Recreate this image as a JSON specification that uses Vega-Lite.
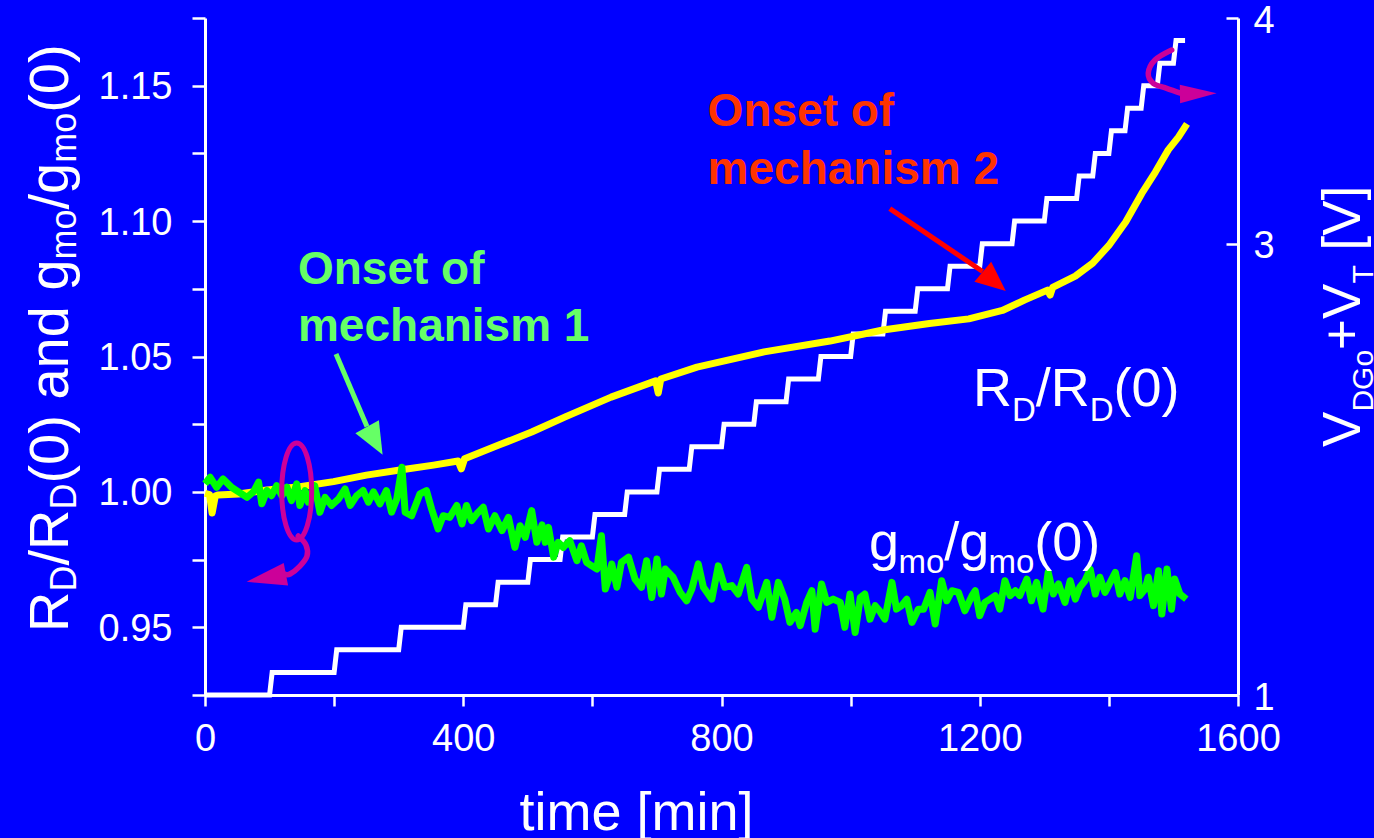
{
  "$schema": "https://vega.github.io/schema/vega-lite/v6.json",
  "width": 1033,
  "height": 677,
  "autosize": {"type": "none"},
  "padding": {"left": 205, "top": 18, "right": 136, "bottom": 143},
  "background": "#0000FF",
  "config": {
    "view": {"stroke": null},
    "font": "Liberation Sans",
    "axis": {"grid": false, "domainColor": "#FFFFFF", "tickColor": "#FFFFFF", "labelColor": "#FFFFFF", "titleColor": "#FFFFFF", "labelFont": "Liberation Sans", "titleFont": "Liberation Sans", "titleFontWeight": "normal", "domainWidth": 3, "tickWidth": 2.5, "labelFontSize": 38, "labelOverlap": false, "labelFlush": false}
  },
  "datasets": {
    "vg": [
      {"t":0,"v":1.0},{"t":100,"v":1.0},{"t":104,"v":1.1},{"t":200,"v":1.1},{"t":204,"v":1.2},{"t":300,"v":1.2},{"t":304,"v":1.3},{"t":400,"v":1.3},{"t":404,"v":1.4},{"t":450,"v":1.4},{"t":454,"v":1.5},{"t":500,"v":1.5},{"t":504,"v":1.6},{"t":550,"v":1.6},{"t":554,"v":1.7},{"t":600,"v":1.7},{"t":604,"v":1.8},{"t":650,"v":1.8},{"t":654,"v":1.9},{"t":700,"v":1.9},{"t":704,"v":2.0},{"t":750,"v":2.0},{"t":754,"v":2.1},{"t":800,"v":2.1},{"t":804,"v":2.2},{"t":850,"v":2.2},{"t":854,"v":2.3},{"t":900,"v":2.3},{"t":904,"v":2.4},{"t":950,"v":2.4},{"t":954,"v":2.5},{"t":1000,"v":2.5},{"t":1004,"v":2.6},{"t":1050,"v":2.6},{"t":1054,"v":2.7},{"t":1100,"v":2.7},{"t":1104,"v":2.8},{"t":1150,"v":2.8},{"t":1154,"v":2.9},{"t":1200,"v":2.9},{"t":1204,"v":3.0},{"t":1250,"v":3.0},{"t":1254,"v":3.1},{"t":1300,"v":3.1},{"t":1304,"v":3.2},{"t":1350,"v":3.2},{"t":1354,"v":3.3},{"t":1375,"v":3.3},{"t":1379,"v":3.4},{"t":1400,"v":3.4},{"t":1404,"v":3.5},{"t":1425,"v":3.5},{"t":1429,"v":3.6},{"t":1450,"v":3.6},{"t":1454,"v":3.7},{"t":1475,"v":3.7},{"t":1479,"v":3.8},{"t":1500,"v":3.8},{"t":1504,"v":3.9},{"t":1518,"v":3.9}
    ],
    "rd": [
      {"t":0,"v":0.9995},{"t":7,"v":0.9990},{"t":11,"v":0.9922},{"t":16,"v":0.9985},{"t":20,"v":0.9989},{"t":52,"v":0.9992},{"t":96,"v":1.0007},{"t":147,"v":1.0019},{"t":199,"v":1.0038},{"t":250,"v":1.0062},{"t":302,"v":1.0081},{"t":354,"v":1.0099},{"t":392,"v":1.0114},{"t":397,"v":1.0085},{"t":402,"v":1.0122},{"t":455,"v":1.0173},{"t":506,"v":1.0221},{"t":558,"v":1.0277},{"t":629,"v":1.0350},{"t":698,"v":1.0410},{"t":702,"v":1.0365},{"t":706,"v":1.0417},{"t":762,"v":1.0461},{"t":866,"v":1.0517},{"t":968,"v":1.0557},{"t":1050,"v":1.0598},{"t":1122,"v":1.0622},{"t":1183,"v":1.0639},{"t":1235,"v":1.0670},{"t":1270,"v":1.0709},{"t":1305,"v":1.0745},{"t":1309,"v":1.0727},{"t":1313,"v":1.0755},{"t":1348,"v":1.0797},{"t":1375,"v":1.0845},{"t":1400,"v":1.0910},{"t":1426,"v":1.0997},{"t":1451,"v":1.1102},{"t":1472,"v":1.1181},{"t":1492,"v":1.1263},{"t":1508,"v":1.1311},{"t":1521,"v":1.1359}
    ],
    "gm": [
      {"t":0,"v":1.003},{"t":8,"v":1.0054},{"t":18,"v":1.0017},{"t":28,"v":1.0048},{"t":41,"v":1.0017},{"t":52,"v":1.0},{"t":65,"v":0.998},{"t":75,"v":1.0},{"t":83,"v":1.0036},{"t":88,"v":0.9956},{"t":96,"v":1.0005},{"t":103,"v":0.9986},{"t":111,"v":1.0023},{"t":119,"v":0.9986},{"t":127,"v":1.0017},{"t":134,"v":0.9968},{"t":142,"v":1.003},{"t":147,"v":0.995},{"t":155,"v":1.0005},{"t":160,"v":0.9962},{"t":170,"v":1.0023},{"t":178,"v":0.9925},{"t":186,"v":0.998},{"t":196,"v":0.995},{"t":207,"v":0.9974},{"t":217,"v":1.0011},{"t":225,"v":0.995},{"t":235,"v":0.9986},{"t":245,"v":1.0005},{"t":253,"v":0.9962},{"t":261,"v":1.0},{"t":271,"v":0.9956},{"t":281,"v":1.0005},{"t":289,"v":0.9925},{"t":297,"v":0.9974},{"t":305,"v":1.0091},{"t":310,"v":0.9925},{"t":320,"v":0.9912},{"t":333,"v":0.9993},{"t":343,"v":1.0005},{"t":351,"v":0.9937},{"t":361,"v":0.9863},{"t":369,"v":0.9912},{"t":379,"v":0.9906},{"t":390,"v":0.995},{"t":398,"v":0.9882},{"t":405,"v":0.995},{"t":413,"v":0.9894},{"t":421,"v":0.9919},{"t":431,"v":0.9943},{"t":439,"v":0.9863},{"t":449,"v":0.9912},{"t":460,"v":0.9857},{"t":470,"v":0.9906},{"t":480,"v":0.9795},{"t":488,"v":0.9875},{"t":496,"v":0.9832},{"t":506,"v":0.9931},{"t":514,"v":0.9814},{"t":522,"v":0.9878},{"t":527,"v":0.9814},{"t":532,"v":0.9869},{"t":540,"v":0.9759},{"t":547,"v":0.9814},{"t":555,"v":0.9795},{"t":565,"v":0.982},{"t":576,"v":0.9746},{"t":583,"v":0.9801},{"t":591,"v":0.974},{"t":599,"v":0.9727},{"t":607,"v":0.9715},{"t":614,"v":0.9838},{"t":620,"v":0.9641},{"t":625,"v":0.9678},{"t":630,"v":0.9734},{"t":638,"v":0.9648},{"t":645,"v":0.974},{"t":656,"v":0.9759},{"t":666,"v":0.9678},{"t":676,"v":0.9648},{"t":684,"v":0.9746},{"t":692,"v":0.961},{"t":700,"v":0.9752},{"t":707,"v":0.9623},{"t":713,"v":0.9715},{"t":725,"v":0.9685},{"t":736,"v":0.9629},{"t":746,"v":0.9598},{"t":754,"v":0.9641},{"t":764,"v":0.9734},{"t":772,"v":0.9648},{"t":785,"v":0.9604},{"t":795,"v":0.9727},{"t":805,"v":0.9648},{"t":816,"v":0.9654},{"t":826,"v":0.9623},{"t":839,"v":0.9721},{"t":847,"v":0.9604},{"t":857,"v":0.9574},{"t":870,"v":0.9666},{"t":878,"v":0.9537},{"t":888,"v":0.9666},{"t":898,"v":0.9604},{"t":906,"v":0.9518},{"t":916,"v":0.9555},{"t":922,"v":0.9506},{"t":932,"v":0.9592},{"t":940,"v":0.9635},{"t":945,"v":0.9493},{"t":955,"v":0.966},{"t":963,"v":0.9592},{"t":973,"v":0.9604},{"t":984,"v":0.9592},{"t":991,"v":0.95},{"t":999,"v":0.9623},{"t":1007,"v":0.9481},{"t":1015,"v":0.961},{"t":1022,"v":0.9623},{"t":1030,"v":0.953},{"t":1038,"v":0.958},{"t":1045,"v":0.956},{"t":1053,"v":0.953},{"t":1064,"v":0.9666},{"t":1071,"v":0.9567},{"t":1079,"v":0.958},{"t":1087,"v":0.9604},{"t":1095,"v":0.9518},{"t":1105,"v":0.9567},{"t":1113,"v":0.9567},{"t":1123,"v":0.9629},{"t":1131,"v":0.9512},{"t":1141,"v":0.9672},{"t":1149,"v":0.9598},{"t":1157,"v":0.9635},{"t":1167,"v":0.9629},{"t":1177,"v":0.9561},{"t":1188,"v":0.9617},{"t":1193,"v":0.9635},{"t":1200,"v":0.9543},{"t":1208,"v":0.9592},{"t":1216,"v":0.9604},{"t":1224,"v":0.9617},{"t":1231,"v":0.9567},{"t":1239,"v":0.9672},{"t":1247,"v":0.9617},{"t":1255,"v":0.9635},{"t":1262,"v":0.9617},{"t":1273,"v":0.9678},{"t":1280,"v":0.9598},{"t":1288,"v":0.9666},{"t":1298,"v":0.9567},{"t":1306,"v":0.9703},{"t":1314,"v":0.9623},{"t":1322,"v":0.966},{"t":1332,"v":0.9592},{"t":1340,"v":0.9672},{"t":1348,"v":0.9604},{"t":1355,"v":0.9648},{"t":1363,"v":0.9672},{"t":1371,"v":0.9715},{"t":1379,"v":0.9623},{"t":1386,"v":0.9685},{"t":1394,"v":0.9629},{"t":1402,"v":0.9666},{"t":1410,"v":0.9703},{"t":1417,"v":0.9623},{"t":1425,"v":0.9672},{"t":1433,"v":0.961},{"t":1443,"v":0.9764},{"t":1448,"v":0.9617},{"t":1456,"v":0.9641},{"t":1461,"v":0.9685},{"t":1469,"v":0.958},{"t":1477,"v":0.9709},{"t":1482,"v":0.9549},{"t":1490,"v":0.9715},{"t":1497,"v":0.9567},{"t":1502,"v":0.9678},{"t":1510,"v":0.9623},{"t":1520,"v":0.9604}
    ],
    "shafts": [
      {"id":"g","i":0,"t":202.9,"v":1.05092},{"id":"g","i":1,"t":250.9,"v":1.02415},
      {"id":"r","i":0,"t":1060.7,"v":1.10461},{"id":"r","i":1,"t":1204.4,"v":1.08139},
      {"id":"m1","i":0,"t":144.5,"v":0.98371},{"id":"m1","i":1,"t":156.4,"v":0.98039},{"id":"m1","i":2,"t":158.0,"v":0.97633},{"id":"m1","i":3,"t":147.1,"v":0.97263},{"id":"m1","i":4,"t":131.7,"v":0.96968},{"id":"m1","i":5,"t":124.0,"v":0.9696},
      {"id":"m2","i":0,"t":1497.3,"v":1.16318},{"id":"m2","i":1,"t":1471.4,"v":1.15949},{"id":"m2","i":2,"t":1461.0,"v":1.15458},{"id":"m2","i":3,"t":1468.8,"v":1.15089},{"id":"m2","i":4,"t":1489.5,"v":1.14904},{"id":"m2","i":5,"t":1512.0,"v":1.1472}
    ],
    "heads": [
      {"id":"g","t":263.1,"v":1.01887},
      {"id":"r","t":1222.5,"v":1.07777},
      {"id":"m1","t":94.9,"v":0.9682},
      {"id":"m2","t":1538.5,"v":1.14705},
      {"id":"ell","t":142.0,"v":1.00015}
    ],
    "labels": [
      {"g":"yl_main","t":-212.2,"v":0.94826,"s":"R"},
      {"g":"yl_main","t":-212.2,"v":0.97278,"s":"/R"},
      {"g":"yl_main","t":-212.2,"v":1.00306,"s":"(0) and g"},
      {"g":"yl_main","t":-212.2,"v":1.10428,"s":"/g"},
      {"g":"yl_main","t":-212.2,"v":1.13999,"s":"(0)"},
      {"g":"yl_sub","t":-199.8,"v":0.96318,"s":"D"},
      {"g":"yl_sub","t":-199.8,"v":0.99346,"s":"D"},
      {"g":"yl_sub","t":-199.8,"v":1.08582,"s":"mo"},
      {"g":"yl_sub","t":-199.8,"v":1.12153,"s":"mo"},
      {"g":"yr_main","t":1788.9,"v":1.01658,"s":"V"},
      {"g":"yr_main","t":1788.9,"v":1.05244,"s":"+V"},
      {"g":"yr_main","t":1788.9,"v":1.08911,"s":"[V]"},
      {"g":"yr_sub","t":1809.0,"v":1.02965,"s":"DGo"},
      {"g":"yr_sub","t":1809.0,"v":1.07692,"s":"T"},
      {"g":"lab_main","t":1189.5,"v":1.03172,"s":"R"},
      {"g":"lab_main","t":1286.8,"v":1.03172,"s":"/R"},
      {"g":"lab_main","t":1407.3,"v":1.03172,"s":"(0)"},
      {"g":"lab_main","t":1028.5,"v":0.97485,"s":"g"},
      {"g":"lab_main","t":1145.1,"v":0.97485,"s":"/g"},
      {"g":"lab_main","t":1284.5,"v":0.97485,"s":"(0)"},
      {"g":"lab_sub","t":1250.0,"v":1.02618,"s":"D"},
      {"g":"lab_sub","t":1370.4,"v":1.02618,"s":"D"},
      {"g":"lab_sub","t":1074.1,"v":0.97005,"s":"mo"},
      {"g":"lab_sub","t":1213.6,"v":0.97005,"s":"mo"},
      {"g":"on1","t":144.0,"v":1.07659,"s":"Onset of"},
      {"g":"on1","t":144.0,"v":1.05572,"s":"mechanism 1"},
      {"g":"on2","t":778.5,"v":1.13512,"s":"Onset of"},
      {"g":"on2","t":778.5,"v":1.1137,"s":"mechanism 2"}
    ]
  },
  "encoding": {
    "x": {
      "field": "t", "type": "quantitative",
      "scale": {"domain": [0, 1600], "nice": false, "zero": false},
      "axis": {
        "orient": "bottom",
        "values": [0, 200, 400, 600, 800, 1000, 1200, 1400, 1600],
        "format": "d",
        "labelExpr": "datum.value % 400 === 0 ? datum.label : ''",
        "tickSize": 11,
        "labelPadding": 14,
        "title": "time [min]",
        "titleFontSize": 54,
        "titleX": 431,
        "titleY": 134,
        "titleBaseline": "alphabetic"
      }
    }
  },
  "layer": [
    {
      "data": {"name": "vg"},
      "mark": {"type": "line", "color": "#FFFFFF", "strokeWidth": 5},
      "encoding": {
        "y": {
          "field": "v", "type": "quantitative",
          "scale": {"domain": [1, 4], "nice": false, "zero": false},
          "axis": {
            "orient": "right",
            "values": [1, 2, 3, 3.5, 4],
            "format": "d",
            "labelExpr": "datum.value % 1 === 0 ? datum.label : ''",
            "tickSize": -12,
            "labelPadding": 27,
            "labelOffset": 3,
            "title": null
          }
        }
      }
    },
    {
      "encoding": {
        "y": {
          "field": "v", "type": "quantitative",
          "scale": {"domain": [0.925, 1.175], "nice": false, "zero": false},
          "axis": {
            "orient": "left",
            "values": [0.925, 0.95, 0.975, 1.0, 1.025, 1.05, 1.075, 1.1, 1.125, 1.15, 1.175],
            "labelExpr": "round(datum.value * 1000) % 50 === 0 ? format(datum.value, '.2f') : ''",
            "tickSize": 13,
            "labelPadding": 20,
            "labelOffset": 2,
            "title": null
          }
        }
      },
      "layer": [
        {"data": {"name": "rd"}, "mark": {"type": "line", "color": "#FFFF00", "strokeWidth": 7, "strokeJoin": "round"}},
        {"data": {"name": "gm"}, "mark": {"type": "line", "color": "#00FF00", "strokeWidth": 7, "strokeJoin": "round"}},
        {"data": {"name": "shafts"}, "transform": [{"filter": "datum.id === 'g'"}], "mark": {"type": "line", "color": "#66FF66", "strokeWidth": 5}, "encoding": {"order": {"field": "i"}}},
        {"data": {"name": "shafts"}, "transform": [{"filter": "datum.id === 'r'"}], "mark": {"type": "line", "color": "#FF0000", "strokeWidth": 5}, "encoding": {"order": {"field": "i"}}},
        {"data": {"name": "shafts"}, "transform": [{"filter": "datum.id === 'm1' || datum.id === 'm2'"}], "mark": {"type": "line", "color": "#CC0099", "strokeWidth": 5.5, "interpolate": "cardinal", "strokeCap": "round"}, "encoding": {"order": {"field": "i"}, "detail": {"field": "id"}}},
        {"data": {"name": "heads"}, "transform": [{"filter": "datum.id === 'g'"}], "mark": {"type": "point", "shape": "M0,-1L0.84,1L-0.84,1Z", "filled": true, "color": "#66FF66", "opacity": 1, "size": 1024, "angle": 151, "strokeWidth": 0}},
        {"data": {"name": "heads"}, "transform": [{"filter": "datum.id === 'r'"}], "mark": {"type": "point", "shape": "M0,-1L0.87,1L-0.87,1Z", "filled": true, "color": "#FF0000", "opacity": 1, "size": 900, "angle": 130, "strokeWidth": 0}},
        {"data": {"name": "heads"}, "transform": [{"filter": "datum.id === 'm1'"}], "mark": {"type": "point", "shape": "M0,-1L0.575,1L-0.575,1Z", "filled": true, "color": "#CC0099", "opacity": 1, "size": 1600, "angle": 259, "strokeWidth": 0}},
        {"data": {"name": "heads"}, "transform": [{"filter": "datum.id === 'm2'"}], "mark": {"type": "point", "shape": "M0,-1L0.5,1L-0.5,1Z", "filled": true, "color": "#CC0099", "opacity": 1, "size": 1347, "angle": 89, "strokeWidth": 0}},
        {"data": {"name": "heads"}, "transform": [{"filter": "datum.id === 'ell'"}], "mark": {"type": "point", "shape": "M0,-1C0.171,-1,0.309,-0.552,0.309,0C0.309,0.552,0.171,1,0,1C-0.171,1,-0.309,0.552,-0.309,0C-0.309,-0.552,-0.171,-1,0,-1Z", "filled": false, "color": "#CC0099", "opacity": 1, "size": 9409, "strokeWidth": 5}},
        {"data": {"name": "labels"}, "transform": [{"filter": "datum.g === 'yl_main'"}], "mark": {"type": "text", "angle": 270, "align": "left", "baseline": "alphabetic", "fontSize": 56, "color": "#FFFFFF", "font": "Liberation Sans"}, "encoding": {"text": {"field": "s"}}},
        {"data": {"name": "labels"}, "transform": [{"filter": "datum.g === 'yl_sub'"}], "mark": {"type": "text", "angle": 270, "align": "left", "baseline": "alphabetic", "fontSize": 36, "color": "#FFFFFF", "font": "Liberation Sans"}, "encoding": {"text": {"field": "s"}}},
        {"data": {"name": "labels"}, "transform": [{"filter": "datum.g === 'yr_main'"}], "mark": {"type": "text", "angle": 270, "align": "left", "baseline": "alphabetic", "fontSize": 53, "color": "#FFFFFF", "font": "Liberation Sans"}, "encoding": {"text": {"field": "s"}}},
        {"data": {"name": "labels"}, "transform": [{"filter": "datum.g === 'yr_sub'"}], "mark": {"type": "text", "angle": 270, "align": "left", "baseline": "alphabetic", "fontSize": 30, "color": "#FFFFFF", "font": "Liberation Sans"}, "encoding": {"text": {"field": "s"}}},
        {"data": {"name": "labels"}, "transform": [{"filter": "datum.g === 'lab_main'"}], "mark": {"type": "text", "align": "left", "baseline": "alphabetic", "fontSize": 54, "color": "#FFFFFF", "font": "Liberation Sans"}, "encoding": {"text": {"field": "s"}}},
        {"data": {"name": "labels"}, "transform": [{"filter": "datum.g === 'lab_sub'"}], "mark": {"type": "text", "align": "left", "baseline": "alphabetic", "fontSize": 33, "color": "#FFFFFF", "font": "Liberation Sans"}, "encoding": {"text": {"field": "s"}}},
        {"data": {"name": "labels"}, "transform": [{"filter": "datum.g === 'on1'"}], "mark": {"type": "text", "align": "left", "baseline": "alphabetic", "fontSize": 46, "fontWeight": "bold", "color": "#66FF66", "font": "Liberation Sans"}, "encoding": {"text": {"field": "s"}}},
        {"data": {"name": "labels"}, "transform": [{"filter": "datum.g === 'on2'"}], "mark": {"type": "text", "align": "left", "baseline": "alphabetic", "fontSize": 46, "fontWeight": "bold", "color": "#FF3300", "font": "Liberation Sans"}, "encoding": {"text": {"field": "s"}}}
      ]
    }
  ],
  "resolve": {"scale": {"y": "independent"}}
}
